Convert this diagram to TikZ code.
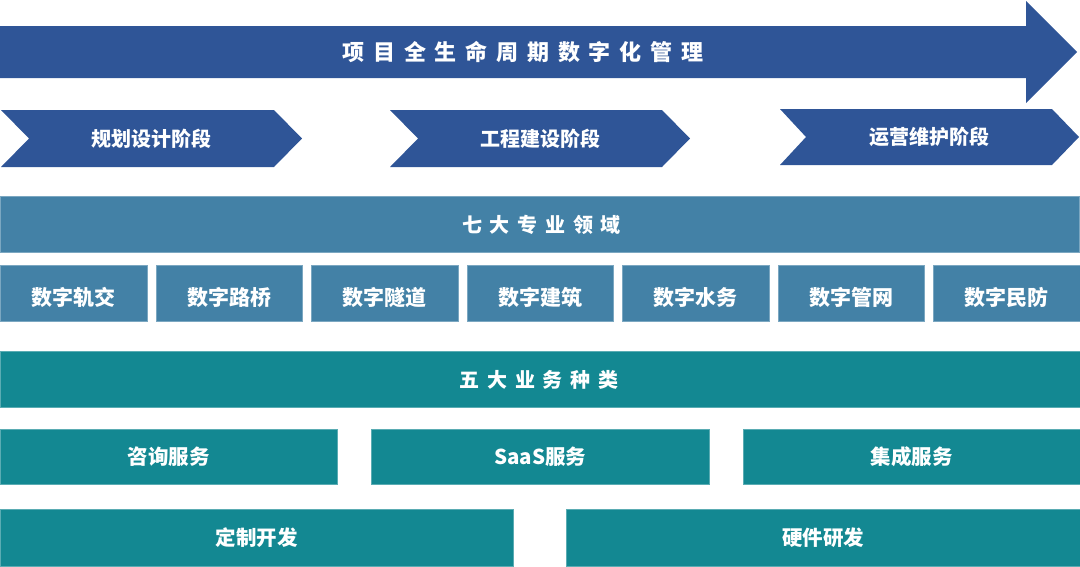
\documentclass[tikz,border=0pt]{standalone}
\usepackage{fontspec}
\newfontfamily\cjk{Noto Sans CJK SC}
\newfontfamily\cjksp[LetterSpace=40]{Noto Sans CJK SC}
\newfontfamily\cjkspb[LetterSpace=39]{Noto Sans CJK SC}
\definecolor{dblue}{HTML}{2F5597}
\definecolor{mblue}{HTML}{4381A6}
\definecolor{teal}{HTML}{138892}
\begin{document}
\begin{tikzpicture}[x=1pt,y=-1pt,
  lbl/.style={text=white,font=\cjk\bfseries\fontsize{20}{20}\selectfont,inner sep=0pt},
  bar/.style={draw=#1!70!white,line width=0.6pt,fill=#1,inner sep=0pt,anchor=north west},
  dom/.style={bar=mblue,minimum width=146.5pt,minimum height=56pt,text=white,
    font=\cjk\bfseries\fontsize{21}{21}\selectfont,text height=26pt,text depth=2.5pt},
  svc/.style={bar=teal,minimum height=55pt,text=white,font=\cjk\bfseries\fontsize{20.5}{20.5}\selectfont}]
\useasboundingbox (0,0) rectangle (1080,566);
% top arrow
\fill[dblue] (0,26) -- (1026,26) -- (1026,1) -- (1077,52) -- (1026,103) -- (1026,78) -- (0,78) -- cycle;
\node[lbl,font=\cjksp\bfseries\fontsize{22}{22}\selectfont] (title) at (523,52) {项目全生命周期数字化管理};
% chevrons
\fill[dblue] (1,110) -- (274,110) -- (302,138.5) -- (274,167) -- (1,167) -- (29,138.5) -- cycle;
\node[lbl] (p1) at (151,139) {规划设计阶段};
\fill[dblue] (390,110) -- (662,110) -- (690,138.5) -- (662,167) -- (390,167) -- (418,138.5) -- cycle;
\node[lbl] (p2) at (540,139) {工程建设阶段};
\fill[dblue] (780,109) -- (1052,109) -- (1079,137) -- (1052,165) -- (780,165) -- (806,137) -- cycle;
\node[lbl] (p3) at (929,137) {运营维护阶段};
% seven domains
\node[bar=mblue,minimum width=1079pt,minimum height=56pt] (seven) at (0,196) {};
\node[lbl,font=\cjkspb\bfseries\fontsize{20}{20}\selectfont] (sevent) at (541.5,225) {七大专业领域};
\node[dom] (d1) at (0,265) {数字轨交};
\node[dom] (d2) at (155.5,265) {数字路桥};
\node[dom] (d3) at (311,265) {数字隧道};
\node[dom] (d4) at (466.5,265) {数字建筑};
\node[dom] (d5) at (622,265) {数字水务};
\node[dom] (d6) at (777.5,265) {数字管网};
\node[dom] (d7) at (933,265) {数字民防};
% five services
\node[bar=teal,minimum width=1080pt,minimum height=56pt] (five) at (0,351) {};
\node[lbl,font=\cjkspb\bfseries\fontsize{20}{20}\selectfont] (fivet) at (539,380) {五大业务种类};
\node[svc,minimum width=337pt] (s1) at (0,429) {咨询服务};
\node[svc,minimum width=338pt] (s2) at (371,429) {SaaS服务};
\node[svc,minimum width=338pt] (s3) at (742.5,429) {集成服务};
\node[svc,minimum width=513pt,minimum height=57pt] (s4) at (0,509) {定制开发};
\node[svc,minimum width=514pt,minimum height=57pt] (s5) at (566,509) {硬件研发};
\end{tikzpicture}
\end{document}
